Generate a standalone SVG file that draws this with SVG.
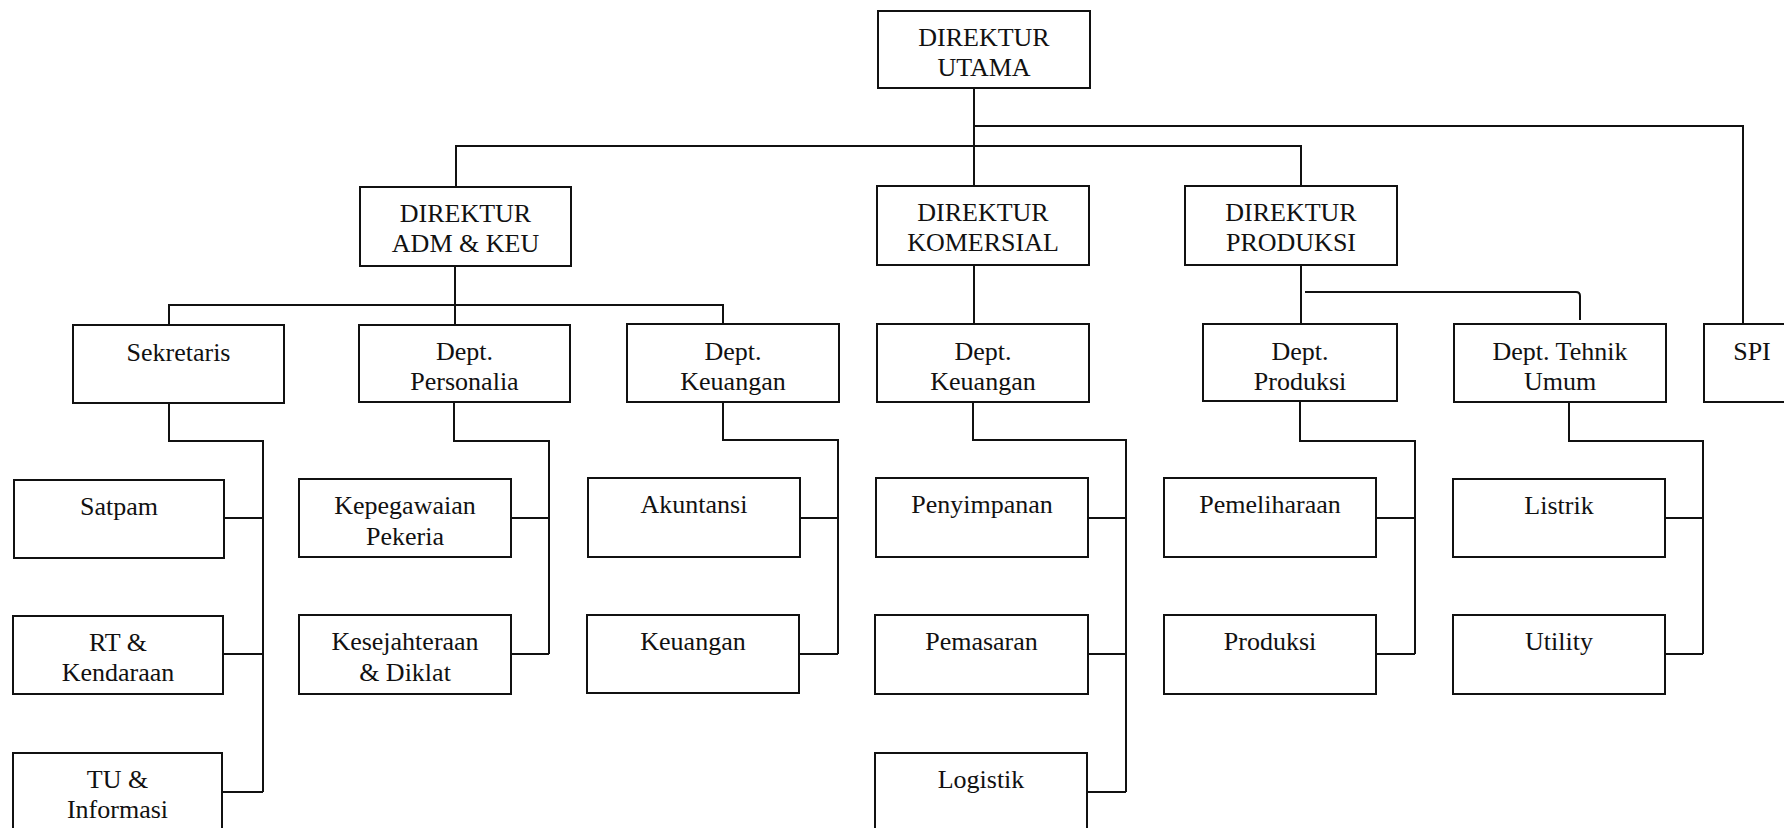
<svg xmlns="http://www.w3.org/2000/svg" width="1784" height="828" viewBox="0 0 1784 828">
<style>
.box rect{fill:#fff;stroke:#111;stroke-width:2}
.box text{font-family:"Liberation Serif","Times New Roman",serif;font-size:26px;fill:#111;text-anchor:middle}
#connectors path{fill:none;stroke:#111;stroke-width:2}
</style>
<rect width="1784" height="828" fill="#fff"/>
<g id="connectors">
<path d="M974 88V186"/>
<path d="M974 126H1743V324"/>
<path d="M456 187V146H1301V186"/>
<path d="M455 267V325"/>
<path d="M169 325V305H723V324"/>
<path d="M974 266V324"/>
<path d="M1301 265V324"/>
<path d="M1305 292H1576Q1580 292 1580 296V320"/>
<path d="M169 403V441H263V792"/>
<path d="M224 518H263M223 654H263M222 792H263"/>
<path d="M454 402V441H549V654"/>
<path d="M511 518H549M511 654H549"/>
<path d="M723 402V440H838V654"/>
<path d="M800 518H838M799 654H838"/>
<path d="M973 402V440H1126V792"/>
<path d="M1088 518H1126M1088 654H1126M1087 792H1126"/>
<path d="M1300 401V441H1415V654"/>
<path d="M1376 518H1415M1376 654H1415"/>
<path d="M1569 402V441H1703V654"/>
<path d="M1665 518H1703M1665 654H1703"/>
</g>
<g id="direktur-utama" class="box"><rect x="878" y="11" width="212" height="77"/><text x="984" y="46">DIREKTUR</text><text x="984" y="76">UTAMA</text></g>
<g id="direktur-adm" class="box"><rect x="360" y="187" width="211" height="79"/><text x="465.5" y="222">DIREKTUR</text><text x="465.5" y="252">ADM &amp; KEU</text></g>
<g id="direktur-komersial" class="box"><rect x="877" y="186" width="212" height="79"/><text x="983" y="221">DIREKTUR</text><text x="983" y="251">KOMERSIAL</text></g>
<g id="direktur-produksi" class="box"><rect x="1185" y="186" width="212" height="79"/><text x="1291" y="221">DIREKTUR</text><text x="1291" y="251">PRODUKSI</text></g>
<g id="sekretaris" class="box"><rect x="73" y="325" width="211" height="78"/><text x="178.5" y="361">Sekretaris</text></g>
<g id="dept-personalia" class="box"><rect x="359" y="325" width="211" height="77"/><text x="464.5" y="360">Dept.</text><text x="464.5" y="390">Personalia</text></g>
<g id="dept-keuangan-adm" class="box"><rect x="627" y="324" width="212" height="78"/><text x="733" y="360">Dept.</text><text x="733" y="390">Keuangan</text></g>
<g id="dept-keuangan-kom" class="box"><rect x="877" y="324" width="212" height="78"/><text x="983" y="360">Dept.</text><text x="983" y="390">Keuangan</text></g>
<g id="dept-produksi" class="box"><rect x="1203" y="324" width="194" height="77"/><text x="1300" y="360">Dept.</text><text x="1300" y="390">Produksi</text></g>
<g id="dept-tehnik-umum" class="box"><rect x="1454" y="324" width="212" height="78"/><text x="1560" y="360">Dept. Tehnik</text><text x="1560" y="390">Umum</text></g>
<g id="spi" class="box"><rect x="1704" y="324" width="96" height="78"/><text x="1752" y="360">SPI</text></g>
<g id="satpam" class="box"><rect x="14" y="480" width="210" height="78"/><text x="119" y="515">Satpam</text></g>
<g id="rt-kendaraan" class="box"><rect x="13" y="616" width="210" height="78"/><text x="118" y="651">RT &amp;</text><text x="118" y="681">Kendaraan</text></g>
<g id="tu-informasi" class="box"><rect x="13" y="753" width="209" height="90"/><text x="117.5" y="788">TU &amp;</text><text x="117.5" y="818">Informasi</text></g>
<g id="kepegawaian" class="box"><rect x="299" y="479" width="212" height="78"/><text x="405" y="514">Kepegawaian</text><text x="405" y="545">Pekeria</text></g>
<g id="kesejahteraan" class="box"><rect x="299" y="615" width="212" height="79"/><text x="405" y="650">Kesejahteraan</text><text x="405" y="681">&amp; Diklat</text></g>
<g id="akuntansi" class="box"><rect x="588" y="478" width="212" height="79"/><text x="694" y="513">Akuntansi</text></g>
<g id="keuangan" class="box"><rect x="587" y="615" width="212" height="78"/><text x="693" y="650">Keuangan</text></g>
<g id="penyimpanan" class="box"><rect x="876" y="478" width="212" height="79"/><text x="982" y="513">Penyimpanan</text></g>
<g id="pemasaran" class="box"><rect x="875" y="615" width="213" height="79"/><text x="981.5" y="650">Pemasaran</text></g>
<g id="logistik" class="box"><rect x="875" y="753" width="212" height="90"/><text x="981" y="788">Logistik</text></g>
<g id="pemeliharaan" class="box"><rect x="1164" y="478" width="212" height="79"/><text x="1270" y="513">Pemeliharaan</text></g>
<g id="produksi" class="box"><rect x="1164" y="615" width="212" height="79"/><text x="1270" y="650">Produksi</text></g>
<g id="listrik" class="box"><rect x="1453" y="479" width="212" height="78"/><text x="1559" y="514">Listrik</text></g>
<g id="utility" class="box"><rect x="1453" y="615" width="212" height="79"/><text x="1559" y="650">Utility</text></g>
</svg>
